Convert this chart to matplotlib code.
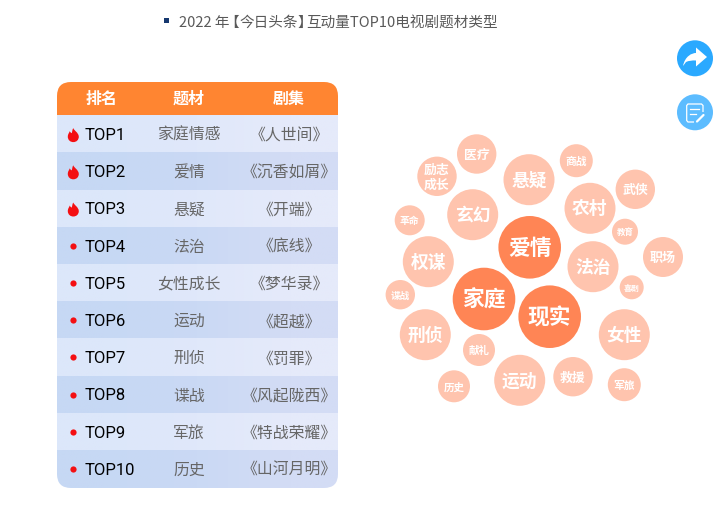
import numpy as np
import matplotlib.pyplot as plt
from matplotlib.patches import Circle, FancyBboxPatch, PathPatch, Rectangle
from matplotlib.path import Path

plt.rcParams['font.family'] = ['Noto Sans CJK SC', 'DejaVu Sans']

title_parts = ['2022 年', '【', '今日头条', '】', '互动量TOP10电视剧题材类型']
headers = ['排名', '题材', '剧集']
ranks = ['TOP1', 'TOP2', 'TOP3', 'TOP4', 'TOP5', 'TOP6', 'TOP7', 'TOP8', 'TOP9', 'TOP10']
genres = ['家庭情感', '爱情', '悬疑', '法治', '女性成长', '运动', '刑侦', '谍战', '军旅', '历史']
shows = ['《人世间》', '《沉香如屑》', '《开端》', '《底线》', '《梦华录》',
         '《超越》', '《罚罪》', '《风起陇西》', '《特战荣耀》', '《山河月明》']

bubble_names = ['医疗', '励志\n成长', '悬疑', '商战', '武侠', '农村', '玄幻', '革命', '教育', '爱情',
                '职场', '权谋', '法治', '谍战', '家庭', '喜剧', '现实', '刑侦', '女性', '献礼',
                '运动', '救援', '历史', '军旅']
bubble_x = [476.7, 437, 529, 576.3, 635.3, 590, 472.7, 409.7, 625, 529.7,
            663, 428.3, 593, 400.3, 484, 631.7, 549.7, 425.3, 624.3, 479,
            519.7, 573, 454, 624.3]
bubble_y = [155, 177.3, 180.7, 161.7, 190.3, 209.3, 215.7, 221.3, 232.7, 248.3,
            258, 262.7, 267.7, 295.7, 300, 288.3, 317.7, 335.7, 335.7, 351,
            381.3, 377.7, 387.3, 385.7]
bubble_r = [19.7, 19.7, 25.5, 16.5, 19.7, 25.5, 25.5, 15, 13, 31.3,
            20, 25.5, 25.5, 14.7, 31.3, 12, 31.3, 25.5, 25.5, 16,
            25.5, 19.7, 16, 16.5]
top_three = ['爱情', '家庭', '现实']

fig = plt.figure(figsize=(7.2, 5.1), dpi=100)
ax = fig.add_axes([0, 0, 1, 1])
ax.set_xlim(0, 720)
ax.set_ylim(510, 0)
ax.axis('off')

# title, the brackets sit tight against the text
ax.add_patch(Rectangle((163.5, 18.5), 5, 5, color='#16386f', lw=0))
for part, x, ha in zip(title_parts, [179, 239, 239, 297, 306], ['left', 'right', 'left', 'left', 'left']):
    ax.text(x, 22.5, part, fontsize=10.5, color='#595959', va='center', ha=ha)

# table
left, right, top, bottom = 57, 338, 83, 489
head_bottom = 117
edges = np.linspace(head_bottom, bottom, len(ranks) + 1)
clip = FancyBboxPatch((left + 14, top + 14), right - left - 28, bottom - top - 28,
                      boxstyle='round,pad=14,rounding_size=14', fc='none', ec='none',
                      transform=ax.transData)
ax.add_patch(clip)

head = Rectangle((left, top), right - left, head_bottom - top, color='#ff8531', lw=0)
ax.add_patch(head)
head.set_clip_path(clip)

light = np.array([[[0xdc, 0xe7, 0xfa], [0xe0, 0xe8, 0xfa], [0xe5, 0xea, 0xfa]]]) / 255
dark = np.array([[[0xc6, 0xd8, 0xf4], [0xca, 0xd9, 0xf4], [0xd3, 0xdc, 0xf5]]]) / 255
for i in range(len(ranks)):
    im = ax.imshow(light if i % 2 == 0 else dark, extent=(left, right, edges[i + 1], edges[i]),
                   interpolation='bilinear', aspect='auto', zorder=1)
    im.set_clip_path(clip)
ax.set_xlim(0, 720)
ax.set_ylim(510, 0)

for x, h in zip([101.5, 189, 289], headers):
    ax.text(x, 99, h, fontsize=11.5, color='white', fontweight='bold', ha='center', va='center', zorder=3)

flame = [(0, -7), (1, -4), (5, -3), (5.5, 1.5), (5.5, 5), (3, 7), (0, 7), (-3, 7), (-5.5, 5), (-5.5, 1.5),
         (-5.5, -1), (-4, -2.5), (-3.5, -4), (-3, -2.5), (-2, -2), (-1.5, -2), (-1, -4), (-1, -5.5), (0, -7)]
flame_codes = [Path.MOVETO] + [Path.CURVE4] * 18


def draw_flame(cx, cy):
    pts = [(cx + px, cy + py) for px, py in flame]
    ax.add_patch(PathPatch(Path(pts, flame_codes), fc='#f40f12', ec='none', zorder=3))


for i in range(len(ranks)):
    y = (edges[i] + edges[i + 1]) / 2
    if i < 3:
        draw_flame(73.3, y + 0.5)
    else:
        ax.scatter([73.3], [y - 0.5], s=20, color='#f40f12', lw=0, zorder=3)
    ax.text(84.5, y, ranks[i], fontsize=12, family='Roboto', color='#000000',
            ha='left', va='center', zorder=3)
    ax.text(189, y, genres[i], fontsize=11.4, color='#666666', ha='center', va='center', zorder=3)
    ax.text(289.5, y, shows[i], fontsize=11.4, color='#666666', ha='center', va='center', zorder=3)

# bubbles
for name, x, y, r in zip(bubble_names, bubble_x, bubble_y, bubble_r):
    color = '#ff8555' if name in top_three else '#ffc4ae'
    ax.add_patch(Circle((x, y), r, fc=color, ec='none', zorder=2))
    size = r * 0.5 if r > 25 else r * 0.47
    ax.text(x, y, name, fontsize=size, color='white', fontweight='bold', ha='center', va='center',
            linespacing=1.1, zorder=3)

# side buttons
ax.add_patch(Circle((695, 59.3), 18, fc='#2aa9ff', ec='none'))
arrow = Path([(683, 67), (685, 57), (692, 54), (696, 54), (696, 48.5), (707, 58), (696, 67.5), (696, 61.5),
              (690, 61), (686, 63), (683, 67)],
             [Path.MOVETO, Path.CURVE4, Path.CURVE4, Path.CURVE4, Path.LINETO, Path.LINETO, Path.LINETO,
              Path.LINETO, Path.CURVE3, Path.CURVE3, Path.CLOSEPOLY])
ax.add_patch(PathPatch(arrow, fc='white', ec='none'))

ax.add_patch(Circle((695, 113.3), 18, fc='#5cbcff', ec='none'))
note = Path([(694, 123), (688, 123), (686.7, 121.5), (686.7, 106.5), (688, 105), (701.5, 105), (703, 106.5), (703, 113)],
            [Path.MOVETO] + [Path.LINETO] * 7)
ax.add_patch(PathPatch(note, fc='none', ec='white', lw=0.9))
ax.plot([690, 699], [110, 110], color='white', lw=0.9)
ax.plot([690, 696], [114.5, 114.5], color='white', lw=0.9)
ax.plot([697, 703.5], [122.5, 116], color='white', lw=1.6, solid_capstyle='round')

fig.savefig('out.png', dpi=100, facecolor='white')
